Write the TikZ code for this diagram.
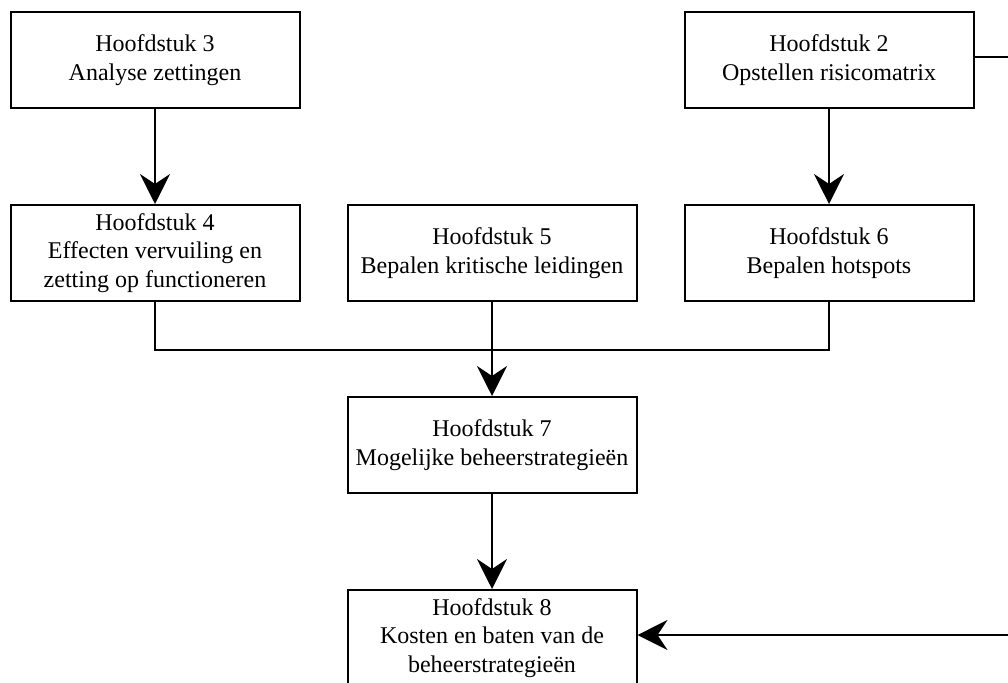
\documentclass[tikz,border=0pt]{standalone}
\usepackage{fontspec}
\setmainfont{Liberation Serif}
\usetikzlibrary{arrows.meta}
\tikzset{
  chapbox/.style={draw=black, line width=2pt, fill=white, minimum width=289pt, minimum height=96pt,
    inner sep=0pt, align=center, font=\fontsize{24}{28.5}\selectfont},
  conn/.style={draw=black, line width=2pt},
  arr/.style={conn, -{Stealth[length=30pt, width=30pt, inset=10pt]}}
}
\begin{document}
\begin{tikzpicture}[x=1pt, y=-1pt]
\path[use as bounding box, clip] (0,0) rectangle (1008,682);
\fill[white] (0,0) rectangle (1008,682);
\node[chapbox] (h3) at (155,60) {Hoofdstuk 3\\Analyse zettingen};
\node[chapbox] (h2) at (829,60) {Hoofdstuk 2\\Opstellen risicomatrix};
\node[chapbox] (h4) at (155,253) {Hoofdstuk 4\\Effecten vervuiling en\\zetting op functioneren};
\node[chapbox] (h5) at (492,253) {Hoofdstuk 5\\Bepalen kritische leidingen};
\node[chapbox] (h6) at (829,253) {Hoofdstuk 6\\Bepalen hotspots};
\node[chapbox] (h7) at (492,445) {Hoofdstuk 7\\Mogelijke beheerstrategieën};
\node[chapbox] (h8) at (492,638) {Hoofdstuk 8\\Kosten en baten van de\\beheerstrategieën};
\coordinate (redge1) at (1010,57);
\coordinate (redge2) at (1010,635);
\coordinate (join) at (492,350);
\draw[arr] (h3) -- (h4);
\draw[arr] (h2) -- (h6);
\draw[conn] (h4.south) |- (join) -| (h6.south);
\draw[arr] (h5) -- (h7);
\draw[arr] (h7) -- (h8);
\draw[conn] (h2.east |- redge1) -- (redge1);
\draw[arr] (redge2) -- (h8.east |- redge2);
\end{tikzpicture}
\end{document}
